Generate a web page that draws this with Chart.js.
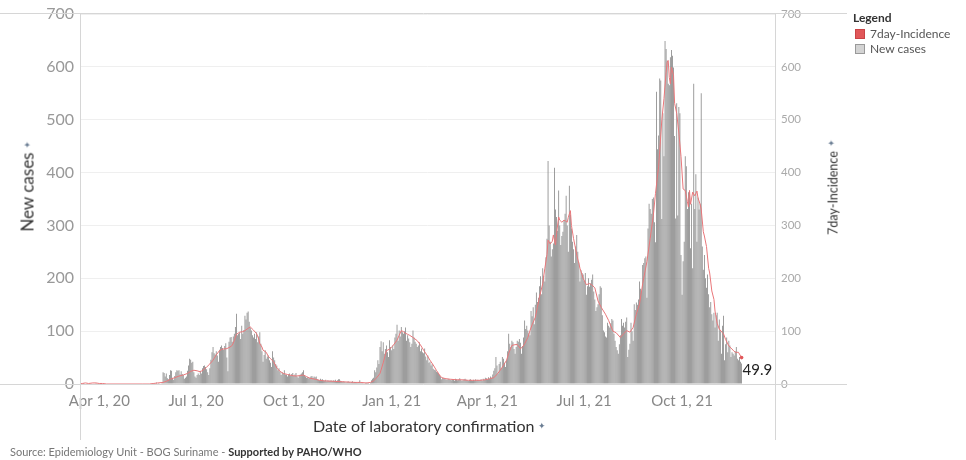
<!DOCTYPE html>
<html>
<head>
<meta charset="utf-8">
<script src="https://cdn.jsdelivr.net/npm/chart.js@4.4.0/dist/chart.umd.min.js"></script>
<style>
  html, body { margin: 0; padding: 0; background: #fff; }
  body { width: 966px; height: 460px; position: relative; overflow: hidden; font-family: Lato, "Open Sans", sans-serif; }
  #chart { position: absolute; left: 0; top: 0; }
  .vt { position: absolute; transform: translate(-50%, -50%) rotate(-90deg); white-space: nowrap; color: #333; }
  .ht { position: absolute; white-space: nowrap; color: #333; }
  .pin { color: #6a7d93; font-size: 9px; margin-left: 4px; vertical-align: 3px; }
  #legend { position: absolute; left: 853px; top: 10px; font-size: 12px; color: #555; }
  #legend .lg-title { color: #333; font-weight: bold; line-height: 16px; }
  #legend .lg-item { line-height: 15px; white-space: nowrap; }
  #legend .sw { display: inline-block; width: 8px; height: 8px; border: 1px solid; margin: 0 5px 0 2px; vertical-align: -1px; }
  #footer { position: absolute; left: 10px; top: 445px; font-size: 11px; color: #777; white-space: nowrap; }
  #footer b { color: #333; }
</style>
</head>
<body>
<canvas id="chart" width="966" height="460"></canvas>

<div class="vt" style="left:27px; top:186px; font-size:17px;">New cases<span class="pin">✦</span></div>
<div class="vt" style="left:833px; top:187px; font-size:12.5px;">7day-Incidence<span class="pin">✦</span></div>
<div class="ht" style="left:313px; top:416px; font-size:16px;">Date of laboratory confirmation<span class="pin">✦</span></div>

<div id="legend">
  <div class="lg-title">Legend</div>
  <div class="lg-item"><span class="sw" style="background:#e15759;border-color:#c94446"></span>7day-Incidence</div>
  <div class="lg-item"><span class="sw" style="background:#d3d3d3;border-color:#999"></span>New cases</div>
</div>

<div id="footer">Source: Epidemiology Unit - BOG Suriname - <b>Supported by PAHO/WHO</b></div>

<script>
// day 0 of the series
const startDate = '2020-03-13';

const tickDates = ['2020-04-01', '2020-07-01', '2020-10-01', '2021-01-01', '2021-04-01', '2021-07-01', '2021-10-01'];
const tickLabels = ['Apr 1, 20', 'Jul 1, 20', 'Oct 1, 20', 'Jan 1, 21', 'Apr 1, 21', 'Jul 1, 21', 'Oct 1, 21'];
const yTicks = [0, 100, 200, 300, 400, 500, 600, 700];

// daily new cases, one value per day from startDate
const newCases = [
  1,0,0,0,2,0,1,0,0,1, 0,0,0,1,1,0,2,0,0,1, 0,0,1,
  0,0,0,0,0,0,0,0,0,0, 0,0,0,0,0,0,0,0,0,0, 0,0,0,0,0,0,0,0,0,0, 0,0,0,0,0,0,0,0,0,0, 0,0,0,0,
  1,0,0,2,0,1,3,0,2,0,1,2,
  22,21,14,20,11,9,17,26,25,12,
  8,15,22,26,25,26,18,24,19,17,
  10,12,14,25,35,48,46,40,42,22,
  14,12,17,20,17,25,20,30,34,35,
  32,28,22,17,30,46,60,70,58,56,
  62,54,42,65,70,73,68,65,72,77,
  50,24,80,88,89,80,90,95,108,133,
  92,
  95,98,85,110,95,102,129,122,135,137,
  118,107,101,92,88,95,85,98,79,90,
  98,76,62,42,55,64,48,52,54,45,
  40,32,62,50,45,38,35,26,30,23,
  17,22,20,26,18,17,14,18,20,16,
  19,21,15,18,21,14,12,15,18,20,
  22,26,17,14,12,13,11,12,14,15,
  12,14,13,14,9,8,7,10,8,9,
  7,6,8,5,7,6,6,7,5,7,
  6,8,5,7,9,9,6,5,4,5,
  4,3,4,5,4,3,4,5,3,4,
  4,3,2,4,7,3,2,2,1,2,
  3,2,2,1,3,7,10,12,26,22,
  31,45,38,70,81,62,79,57,66,73,
  60,51,83,70,64,73,66,88,95,112,
  82,101,90,108,98,95,100,107,82,92,
  86,79,70,76,101,88,80,76,70,73,
  79,62,67,60,58,67,52,45,54,40,
  42,35,38,29,27,26,23,22,20,17,
  14,9,12,11,10,9,8,10,9,8,
  7,9,8,6,10,9,7,8,11,8,
  6,7,9,10,8,7,6,8,9,7,
  6,8,7,9,6,8,7,
  7,9,6,10,8,12,11,9,13,10,
  14,12,18,25,30,51,35,20,38,42,
  30,51,48,40,32,45,62,95,76,70,
  82,79,66,57,70,82,80,85,78,57,
  72,88,120,104,110,101,96,92,138,128,
  145,113,150,173,155,163,185,204,170,219,
  205,194,240,275,422,300,269,241,255,266,
  409,330,316,290,366,300,263,280,288,310,
  322,356,300,250,375,320,294,269,255,229,
  260,282,250,230,194,215,210,207,195,210,
  169,185,200,184,190,197,207,175,160,138,
  145,151,170,185,182,130,101,98,90,88,
  116,110,107,115,123,120,95,82,70,64,
  57,75,92,123,110,116,107,118,126,51,
  65,76,116,100,82,151,140,154,150,160,
  194,180,175,225,229,238,241,163,294,341,
  331,322,350,353,306,268,553,444,470,578,
  574,312,512,431,649,634,612,568,565,618,
  632,621,599,469,313,531,319,524,512,244,
  169,232,269,431,412,331,363,366,257,341,
  219,568,331,397,269,353,330,341,550,260,
  216,244,200,182,207,170,145,155,132,120,
  135,107,130,135,82,122,100,57,110,129,
  45,75,88,60,82,73,51,60,57,54,
  62,70,48,45,51,42,39
];

// 7day-incidence line, read at these days (from startDate)
const incidenceDays = [
  0,3,6,9,13,16,19,22,26,60,66,70,74,79,82,86,90,94,98,102,
  105,108,111,114,117,120,123,126,129,132,135,139,142,144,146,148,151,154,156,158,
  161,164,167,169,170,172,173,176,178,180,183,186,189,192,196,200,204,208,211,214,
  217,222,226,230,240,250,260,265,270,274,277,280,283,286,289,292,295,299,301,303,
  305,307,309,311,314,318,321,324,327,330,333,336,339,341,345,349,355,360,366,372,
  377,382,386,390,393,396,399,402,404,407,409,412,415,417,419,422,424,426,429,431,
  433,436,438,440,441,443,445,446,448,449,451,452,454,456,457,459,460,462,463,465,
  467,468,470,471,474,477,480,482,485,488,491,495,498,502,505,509,512,515,518,521,
  524,527,530,534,537,540,542,545,548,550,552,553,554,555,556,557,559,560,562,564,
  566,568,570,572,573,574,575,577,579,581,582,584,585,587,588,590,592,593,595,597,
  598,600,602,605,606,608,611,613,615,617,620,623
];
const incidenceValues = [
  0,1,2,1,2,2,1,1,0,0,0,1,2,3,5,9,12,15,17,20,
  24,26,25,23,27,32,38,45,55,63,66,67,70,73,82,94,98,99,101,104,
  108,102,95,85,76,70,64,60,52,48,42,30,24,20,18,16,15,16,17,14,
  11,9,7,6,5,4,3,3,2,3,6,12,20,40,63,66,72,83,92,101,
  99,96,94,92,88,82,74,64,55,45,36,26,17,12,10,9,8,8,7,7,
  7,8,10,12,18,26,35,45,58,73,74,75,67,70,76,88,101,112,126,145,
  165,190,219,245,272,265,270,282,263,285,316,310,306,310,309,306,315,328,300,275,
  255,244,228,219,200,188,190,188,182,157,145,132,120,100,97,88,95,101,98,107,
  132,151,190,232,275,319,360,412,500,540,590,609,612,580,568,599,584,531,512,475,
  431,369,366,345,335,366,340,363,356,365,352,340,331,288,280,260,219,210,176,160,
  138,115,104,97,95,84,72,68,64,60,60,49.9
];
const lastLabel = '49.9';

const dayOf = d => Math.round((Date.parse(d) - Date.parse(startDate)) / 86400000);
const tickDays = tickDates.map(dayOf);

Chart.defaults.font.family = 'Lato, "Open Sans", sans-serif';

// pane borders of the original dashboard and the end value label
const frame = {
  id: 'frame',
  afterDraw(chart) {
    const { ctx, chartArea: a } = chart;
    ctx.save();
    ctx.strokeStyle = '#d6d6d6';
    ctx.lineWidth = 1;
    ctx.beginPath();
    ctx.moveTo(0, Math.round(a.top) - 0.5); ctx.lineTo(847, Math.round(a.top) - 0.5);
    ctx.moveTo(0, Math.round(a.bottom) + 0.5); ctx.lineTo(847, Math.round(a.bottom) + 0.5);
    ctx.moveTo(Math.round(a.left) + 0.5, a.top); ctx.lineTo(Math.round(a.left) + 0.5, 440);
    ctx.moveTo(Math.round(a.right) + 0.5, a.top); ctx.lineTo(Math.round(a.right) + 0.5, 440);
    ctx.stroke();

    const meta = chart.getDatasetMeta(0);
    const pt = meta.data[meta.data.length - 1];
    ctx.fillStyle = '#222';
    ctx.font = '15px Lato, "Open Sans", sans-serif';
    ctx.textAlign = 'left';
    ctx.textBaseline = 'middle';
    ctx.fillText(lastLabel, pt.x + 1, pt.y + 13);
    ctx.restore();
  }
};

new Chart(document.getElementById('chart'), {
  type: 'bar',
  data: {
    datasets: [
      {
        type: 'line',
        label: '7day-Incidence',
        yAxisID: 'y1',
        data: incidenceDays.map((d, i) => ({ x: d, y: incidenceValues[i] })),
        borderColor: '#e9777a',
        borderWidth: 1,
        pointRadius: c => (c.dataIndex === incidenceDays.length - 1 ? 1.8 : 0),
        pointBackgroundColor: '#e15759',
        pointBorderWidth: 0,
        tension: 0,
        order: 0
      },
      {
        type: 'bar',
        label: 'New cases',
        yAxisID: 'y',
        data: newCases.map((v, i) => ({ x: i, y: v })),
        backgroundColor: '#858585',
        barPercentage: 1,
        categoryPercentage: 0.75,
        order: 1
      }
    ]
  },
  options: {
    responsive: false,
    animation: false,
    events: [],
    layout: { padding: { top: 9, left: 0, right: 151, bottom: 36 } },
    plugins: { legend: { display: false }, tooltip: { enabled: false } },
    scales: {
      x: {
        type: 'linear',
        offset: false,
        min: 0.9,
        max: 654.4,
        afterBuildTicks: s => { s.ticks = tickDays.map(v => ({ value: v })); },
        afterFit: s => { s.height = 40; },
        ticks: {
          autoSkip: false,
          maxRotation: 0,
          color: '#888',
          font: { size: 15 },
          padding: 8,
          callback: v => tickLabels[tickDays.indexOf(v)] ?? ''
        },
        grid: { display: false, drawTicks: false },
        border: { display: false }
      },
      y: {
        position: 'left',
        min: 0,
        max: 700,
        afterBuildTicks: s => { s.ticks = yTicks.map(v => ({ value: v })); },
        afterFit: s => { s.width = 80; },
        ticks: { color: '#999', font: { size: 16, lineHeight: 1 }, padding: 6 },
        grid: { color: '#efefef', drawTicks: false },
        border: { display: false }
      },
      y1: {
        position: 'right',
        min: 0,
        max: 700,
        afterBuildTicks: s => { s.ticks = yTicks.map(v => ({ value: v })); },
        afterFit: s => { s.width = 40; },
        ticks: { color: '#aaa', font: { size: 11.5, lineHeight: 1 }, padding: 6 },
        grid: { display: false, drawTicks: false },
        border: { display: false }
      }
    }
  },
  plugins: [frame]
});
</script>
</body>
</html>
